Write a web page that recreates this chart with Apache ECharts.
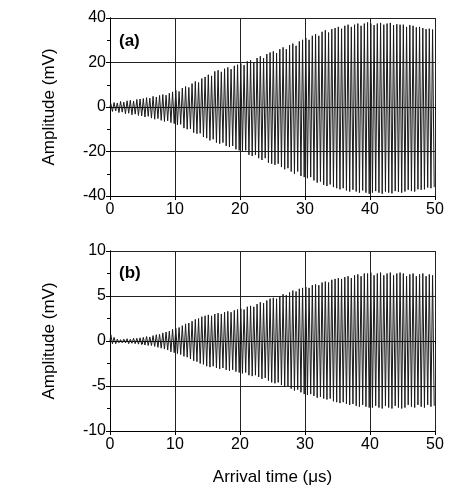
<!DOCTYPE html>
<html>
<head>
<meta charset="utf-8">
<script src="https://cdn.jsdelivr.net/npm/echarts@6/dist/echarts.min.js"></script>
<style>html,body{margin:0;padding:0;background:#fff}#c{width:449px;height:500px}</style>
</head>
<body>
<div id="c"></div>
<script>
// Peak values: one positive and one negative peak per 0.5 µs cycle (2 MHz)
var cycleUs = 0.5;
var xTicks = [0, 10, 20, 30, 40, 50];
var yTicksA = [-40, -20, 0, 20, 40];
var yTicksB = [-10, -5, 0, 5, 10];

var posA = [
  1.5,2,1.8,2.5,2.2,2.8,3,2.7,3.4,3.6,
  3.8,4.2,4,4.8,4.5,5.2,5.6,5.3,6.2,6.8,
  7.5,7,8.5,9.2,8.8,10.5,11.5,11,12.8,13.5,
  14.5,14,16,16.5,15.8,17.2,17.8,17,18.5,19,
  19.5,18.8,20.5,21,20.2,22,22.8,22,23.8,24.5,
  25,24.2,26,26.8,26,27.8,28.5,27.5,29.5,30.2,
  31,30.2,32,32.8,32,33.8,34.5,33.5,35,35.5,
  36,35.2,36.5,37,36,37,37.5,36.5,37.5,38,
  37.5,36.8,37.5,37.8,37,37.5,37.8,36.8,37.2,37,
  37,36,36.8,36.5,35.8,36,35.5,35,35.2,34.8
];
var negA = [
  -2,-1.8,-2.5,-2.3,-3,-2.8,-3.5,-3.2,-3.8,-4,
  -4.5,-4.2,-5,-5.5,-5.2,-6,-6.5,-6.2,-7,-7.5,
  -8,-7.8,-9.5,-10,-9.8,-11.5,-12,-11.8,-13.5,-14,
  -15,-14.5,-16,-16.5,-16,-17.5,-18,-17.5,-19,-19.5,
  -20,-19.5,-21.5,-22,-21.5,-23,-23.8,-23,-25,-25.5,
  -26,-25.5,-27,-28,-27.5,-29,-30,-29,-31,-31.5,
  -32,-31.5,-33,-34,-33.5,-35,-35.5,-34.8,-36,-36.5,
  -37,-36.5,-37.5,-38,-37.2,-38,-38.5,-37.5,-38.5,-39,
  -38.5,-37.8,-38.5,-39,-38,-38.5,-38.8,-37.8,-38.2,-38.5,
  -38,-37.2,-37.8,-38,-37,-37.2,-37,-36.2,-36.5,-36
];
var posB = [
  0.7,0.4,0.2,0.15,0.2,0.25,0.2,0.3,0.3,0.35,
  0.4,0.5,0.45,0.6,0.7,0.75,0.9,1.0,1.1,1.3,
  1.4,1.5,1.7,1.9,2.0,2.2,2.4,2.5,2.7,2.8,
  2.9,2.8,3.0,3.1,3.0,3.2,3.3,3.2,3.4,3.5,
  3.6,3.5,3.8,3.9,3.8,4.1,4.3,4.2,4.5,4.7,
  4.8,4.7,5.0,5.2,5.1,5.4,5.6,5.5,5.8,5.9,
  6.0,5.9,6.2,6.3,6.2,6.5,6.6,6.5,6.8,6.9,
  7.0,6.9,7.1,7.2,7.0,7.3,7.4,7.2,7.5,7.5,
  7.6,7.3,7.5,7.6,7.3,7.5,7.6,7.3,7.5,7.6,
  7.5,7.2,7.4,7.5,7.2,7.4,7.5,7.2,7.4,7.3
];
var negB = [
  -0.3,-0.3,-0.2,-0.2,-0.2,-0.3,-0.25,-0.3,-0.35,-0.4,
  -0.45,-0.5,-0.5,-0.6,-0.7,-0.8,-0.9,-1.0,-1.2,-1.3,
  -1.4,-1.5,-1.7,-1.8,-2.0,-2.2,-2.3,-2.5,-2.6,-2.8,
  -2.9,-2.8,-3.0,-3.1,-3.0,-3.2,-3.3,-3.2,-3.4,-3.5,
  -3.6,-3.5,-3.8,-3.9,-3.8,-4.0,-4.2,-4.1,-4.4,-4.6,
  -4.7,-4.6,-4.9,-5.1,-5.0,-5.3,-5.5,-5.4,-5.7,-5.9,
  -6.0,-5.9,-6.1,-6.3,-6.2,-6.4,-6.5,-6.4,-6.7,-6.8,
  -6.9,-6.8,-7.0,-7.1,-7.0,-7.2,-7.3,-7.1,-7.3,-7.4,
  -7.4,-7.2,-7.4,-7.5,-7.2,-7.4,-7.5,-7.2,-7.4,-7.5,
  -7.4,-7.1,-7.3,-7.4,-7.1,-7.3,-7.4,-7.1,-7.3,-7.2
];

function trace(pos, neg) {
  var out = [[0, 0]];
  for (var k = 0; k < pos.length; k++) {
    out.push([k * cycleUs + cycleUs * 0.25, pos[k]]);
    out.push([k * cycleUs + cycleUs * 0.75, neg[k]]);
  }
  return out;
}

var FONT = 'Liberation Sans, Arial, sans-serif';
var grids = [
  {left: 110, width: 325, top: 18, height: 178},
  {left: 110, width: 325, top: 251, height: 180}
];
function xAxes(gi, showName) {
  return [{
    type: 'value', gridIndex: gi, min: 0, max: 50, interval: 10,
    axisLine: {show: true, onZero: false, lineStyle: {color: '#000', width: 1}},
    axisTick: {show: true, inside: false, length: 4, lineStyle: {color: '#000'}},
    axisLabel: {color: '#000', fontSize: 16, fontFamily: FONT, margin: 6},
    splitLine: {show: true, lineStyle: {color: '#222', width: 1}},
    name: showName ? 'Arrival time (\u03bcs)' : '',
    nameLocation: 'middle', nameGap: 38,
    nameTextStyle: {color: '#000', fontSize: 17, fontFamily: FONT}
  }, {
    type: 'value', gridIndex: gi, min: 0, max: 50, interval: 5, position: 'top',
    axisLine: {show: true, lineStyle: {color: '#000', width: 1}},
    axisTick: {show: true, inside: true, length: 3, lineStyle: {color: '#000'}},
    axisLabel: {show: false}, splitLine: {show: false}
  }];
}
function yAxes(gi, ticks, minorStep) {
  var mn = ticks[0], mx = ticks[ticks.length - 1];
  return [{
    type: 'value', gridIndex: gi, min: mn, max: mx, interval: ticks[1] - ticks[0],
    axisLine: {show: true, onZero: false, lineStyle: {color: '#000', width: 1}},
    axisTick: {show: true, inside: false, length: 4, lineStyle: {color: '#000'}},
    axisLabel: {color: '#000', fontSize: 16, fontFamily: FONT, margin: 4},
    splitLine: {show: true, lineStyle: {color: '#222', width: 1}},
    name: 'Amplitude (mV)', nameLocation: 'middle', nameGap: 52,
    nameTextStyle: {color: '#000', fontSize: 17, fontFamily: FONT}
  }, {
    type: 'value', gridIndex: gi, min: mn, max: mx, interval: minorStep, position: 'right',
    axisLine: {show: true, lineStyle: {color: '#000', width: 1}},
    axisTick: {show: true, inside: true, length: 3, lineStyle: {color: '#000'}},
    axisLabel: {show: false}, splitLine: {show: false}
  }];
}

var chart = echarts.init(document.getElementById('c'), null, {renderer: 'canvas'});
chart.setOption({
  animation: false,
  backgroundColor: '#fff',
  grid: grids,
  xAxis: xAxes(0, false).concat(xAxes(1, true)),
  yAxis: yAxes(0, yTicksA, 10).concat(yAxes(1, yTicksB, 2.5)),
  graphic: [
    {type: 'text', left: 119, top: 33, style: {text: '(a)', fontSize: 17, fontWeight: 'bold', fontFamily: FONT, fill: '#000'}},
    {type: 'text', left: 119, top: 265, style: {text: '(b)', fontSize: 17, fontWeight: 'bold', fontFamily: FONT, fill: '#000'}}
  ],
  series: [
    {type: 'line', xAxisIndex: 0, yAxisIndex: 0, data: trace(posA, negA), showSymbol: false, symbol: 'none',
     lineStyle: {color: '#1a1a1a', width: 1}, z: 3},
    {type: 'line', xAxisIndex: 2, yAxisIndex: 2, data: trace(posB, negB), showSymbol: false, symbol: 'none',
     lineStyle: {color: '#1a1a1a', width: 1}, z: 3}
  ]
});
</script>
</body>
</html>
